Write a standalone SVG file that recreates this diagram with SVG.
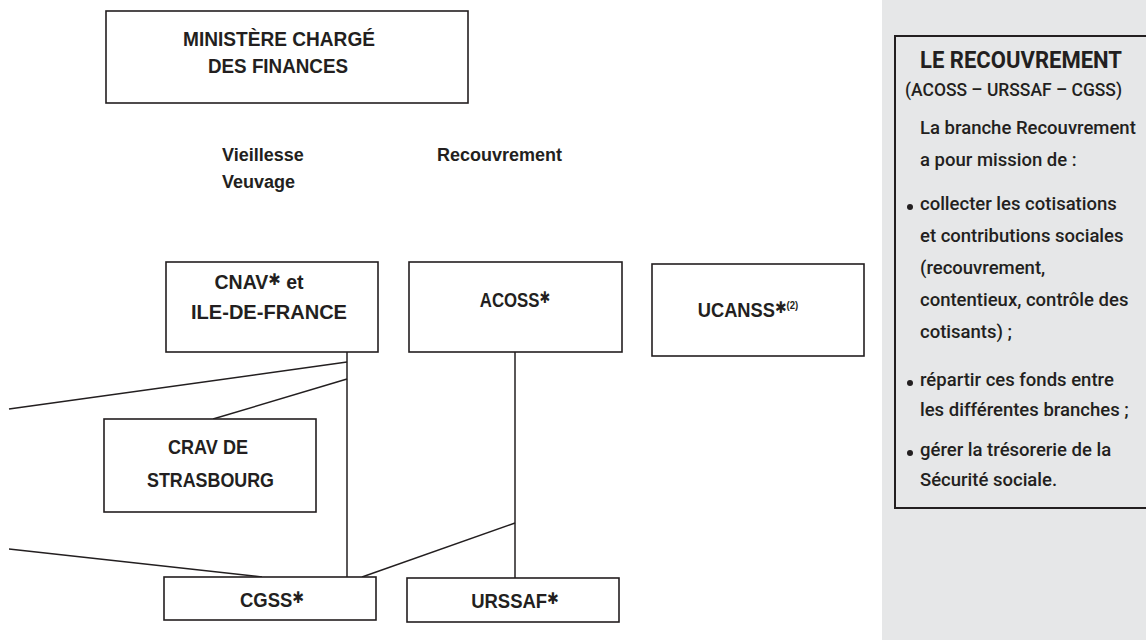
<svg xmlns="http://www.w3.org/2000/svg" width="1146" height="640" viewBox="0 0 1146 640">
<defs>
<style>
.box{fill:#fff;stroke:#231f20;stroke-width:1.6}
.lbl{font-family:"Liberation Sans",Arial,sans-serif;font-weight:bold;fill:#231f20;font-size:21px}
.mid{text-anchor:middle}
.hd{font-family:"Liberation Sans",Arial,sans-serif;font-weight:bold;fill:#231f20;font-size:18px}
.star{font-family:"DejaVu Sans",sans-serif;font-weight:bold;font-size:16px}
.sup{font-size:11px}
.pt{font-family:Roboto,"Liberation Sans",Arial,sans-serif;font-weight:500;fill:#231f20;font-size:18.5px}
.pth{font-family:Roboto,"Liberation Sans",Arial,sans-serif;font-weight:bold;fill:#231f20;font-size:23px}
.conn{stroke:#231f20;stroke-width:1.5;fill:none}
</style>
</defs>
<rect width="1146" height="640" fill="#fff"/>

<g id="panel">
<rect x="882" y="0" width="264" height="640" fill="#e6e7e8"/>
<rect x="895" y="36" width="262" height="472" fill="none" stroke="#231f20" stroke-width="2"/>
<text class="pth" x="920" y="68" textLength="202" lengthAdjust="spacingAndGlyphs">LE RECOUVREMENT</text>
<text class="pt" x="905" y="96" textLength="217" lengthAdjust="spacingAndGlyphs">(ACOSS – URSSAF – CGSS)</text>
<text class="pt" x="920" y="134">La branche Recouvrement</text>
<text class="pt" x="920" y="166">a pour mission de :</text>
<circle cx="910" cy="207" r="3" fill="#231f20"/>
<text class="pt" x="920" y="210">collecter les cotisations</text>
<text class="pt" x="920" y="242">et contributions sociales</text>
<text class="pt" x="920" y="274">(recouvrement,</text>
<text class="pt" x="920" y="306">contentieux, contrôle des</text>
<text class="pt" x="920" y="338">cotisants) ;</text>
<circle cx="910" cy="383" r="3" fill="#231f20"/>
<text class="pt" x="920" y="386">répartir ces fonds entre</text>
<text class="pt" x="920" y="416">les différentes branches ;</text>
<circle cx="910" cy="453" r="3" fill="#231f20"/>
<text class="pt" x="920" y="456">gérer la trésorerie de la</text>
<text class="pt" x="920" y="486">Sécurité sociale.</text>
</g>

<g id="connectors">
<path class="conn" d="M347 352V577"/>
<path class="conn" d="M515 352V578"/>
<path class="conn" d="M347 362L9 409"/>
<path class="conn" d="M347 379L213 419"/>
<path class="conn" d="M9 549L262 577"/>
<path class="conn" d="M515 523L362 577"/>
</g>

<g id="labels">
<text class="hd" x="222" y="161">Vieillesse</text>
<text class="hd" x="222" y="188">Veuvage</text>
<text class="hd" x="437" y="161">Recouvrement</text>
</g>

<g id="ministere">
<rect class="box" x="106" y="11" width="362" height="92"/>
<text class="lbl" x="183" y="46" font-size="22" textLength="192" lengthAdjust="spacingAndGlyphs">MINISTÈRE CHARGÉ</text>
<text class="lbl" x="208" y="73" font-size="22" textLength="140" lengthAdjust="spacingAndGlyphs">DES FINANCES</text>
</g>

<g id="cnav">
<rect class="box" x="166" y="262" width="212" height="90"/>
<text class="lbl mid" transform="translate(259 289) scale(0.93 1)">CNAV<tspan class="star" dy="-4">✱</tspan><tspan dy="4"> et</tspan></text>
<text class="lbl" x="191" y="319" textLength="156" lengthAdjust="spacingAndGlyphs">ILE-DE-FRANCE</text>
</g>

<g id="acoss">
<rect class="box" x="409" y="262" width="213" height="90"/>
<text class="lbl mid" transform="translate(515 307) scale(0.8 1)">ACOSS<tspan class="star" dy="-4">✱</tspan></text>
</g>

<g id="ucanss">
<rect class="box" x="652" y="264" width="212" height="92"/>
<text class="lbl mid" font-size="18" transform="translate(748 317) scale(0.87 1)">UCANSS<tspan class="star" dy="-4">✱</tspan><tspan class="sup" dy="-4">(2)</tspan></text>
</g>

<g id="crav">
<rect class="box" x="104" y="419" width="212" height="93"/>
<text class="lbl" x="168" y="454" textLength="80" lengthAdjust="spacingAndGlyphs">CRAV DE</text>
<text class="lbl" x="147" y="487" textLength="127" lengthAdjust="spacingAndGlyphs">STRASBOURG</text>
</g>

<g id="cgss">
<rect class="box" x="164" y="577" width="212" height="43"/>
<text class="lbl mid" transform="translate(272 607) scale(0.88 1)">CGSS<tspan class="star" dy="-4">✱</tspan></text>
</g>

<g id="urssaf">
<rect class="box" x="407" y="578" width="212" height="44"/>
<text class="lbl mid" transform="translate(515 608) scale(0.88 1)">URSSAF<tspan class="star" dy="-4">✱</tspan></text>
</g>
</svg>
